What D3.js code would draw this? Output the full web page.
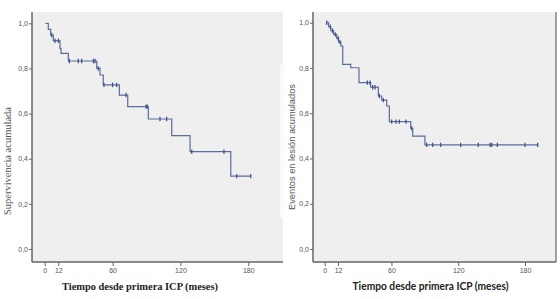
<!DOCTYPE html>
<html><head><meta charset="utf-8">
<script src="https://cdn.jsdelivr.net/npm/d3@7"></script>
<style>html,body{margin:0;padding:0;background:#fff}svg{display:block}</style>
</head><body>
<svg id="c" width="560" height="299"></svg>
<script>
// ---- data ----
const xTicks = [0, 12, 60, 120, 180];
const yTicks = [0, 0.2, 0.4, 0.6, 0.8, 1.0];
const yTickLabels = ["0,0", "0,2", "0,4", "0,6", "0,8", "1,0"];

// Left: Supervivencia acumulada (step times and value after step)
const leftStart = 0.8;
const leftStepTime = [3.2, 5.3, 7.6, 13.5, 14.4, 20.9, 46, 48.9, 51.8, 66, 73.4, 91.6, 112.3, 128.5, 164.5];
const leftStepSurv = [0.973, 0.948, 0.923, 0.889, 0.867, 0.833, 0.80, 0.771, 0.727, 0.682, 0.631, 0.576, 0.502, 0.431, 0.323];
const leftEnd = 182.2;
const leftCensor = [6.2, 9.1, 12.1, 21.8, 29.7, 32.7, 43, 44.5, 47.4, 52.4, 60, 63.6, 71.9, 89.6, 90.7, 101.9, 107.8, 130, 158.5, 169.8, 182.2];

// Right: Eventos en lesión acumulados
const rightStart = 1.8;
const rightStepTime = [3.5, 5.5, 8.0, 10.8, 12.5, 14.5, 16.2, 23.4, 30.8, 41.3, 48.2, 51.2, 55.7, 58.1, 77.3, 79.1, 90.1];
const rightStepSurv = [0.982, 0.965, 0.948, 0.931, 0.914, 0.897, 0.816, 0.801, 0.735, 0.715, 0.676, 0.658, 0.632, 0.563, 0.533, 0.499, 0.46];
const rightEnd = 192;
const rightCensor = [1.8, 5, 7, 9.5, 12, 13.7, 38.3, 40.7, 43.1, 45.2, 49.1, 52.7, 60.2, 64.1, 67.1, 73, 78.2, 91.6, 97, 104.2, 122.2, 138, 148.6, 150.1, 155.1, 180, 191.4];

const svg = d3.select("#c");
const lineColor = "#5b6b9e";
const markColor = "#3d4d85";

function survAt(t, times, surv) {
  let v = 1;
  for (let i = 0; i < times.length; i++) if (times[i] <= t + 1e-9) v = surv[i];
  return v;
}

function panel(o) {
  const x = d3.scaleLinear().domain([0, 180]).range(o.xr);
  const y = d3.scaleLinear().domain([0, 1]).range(o.yr);
  const g = svg.append("g");
  // background
  g.append("rect").attr("x", o.left).attr("y", o.top).attr("width", o.right - o.left)
    .attr("height", o.bottom - o.top).attr("fill", "#efefef");
  if (o.rightBorder) g.append("line").attr("x1", o.right).attr("x2", o.right).attr("y1", o.top).attr("y2", o.bottom)
    .attr("stroke", "#666").attr("stroke-width", 1.2);

  // step path
  const pts = [[o.start, 1]];
  let cur = 1;
  o.times.forEach((t, i) => { pts.push([t, cur]); cur = o.surv[i]; pts.push([t, cur]); });
  pts.push([o.end, cur]);
  g.append("path").attr("d", d3.line().x(d => x(d[0])).y(d => y(d[1]))(pts))
    .attr("fill", "none").attr("stroke", lineColor).attr("stroke-width", 1.2);
  // censor marks
  o.censor.forEach(t => {
    const v = survAt(t, o.times, o.surv);
    g.append("line").attr("x1", x(t)).attr("x2", x(t)).attr("y1", y(v) - 2.2).attr("y2", y(v) + 2.2)
      .attr("stroke", markColor).attr("stroke-width", 1.2);
  });

  // axes
  const yAx = d3.axisLeft(y).tickValues(yTicks).tickSize(3).tickPadding(1)
    .tickFormat((d, i) => yTickLabels[i]);
  const ya = g.append("g").attr("transform", `translate(${o.left},0)`).call(yAx);
  ya.select(".domain").remove();
  g.append("line").attr("x1", o.left).attr("x2", o.left).attr("y1", o.top).attr("y2", o.bottom)
    .attr("stroke", "#666").attr("stroke-width", 1.5);
  const xAx = d3.axisBottom(x).tickValues(xTicks).tickSize(4).tickPadding(2);
  const xa = g.append("g").attr("transform", `translate(0,${o.bottom})`).call(xAx);
  xa.select(".domain").remove();
  g.append("line").attr("x1", o.left).attr("x2", o.right).attr("y1", o.bottom).attr("y2", o.bottom)
    .attr("stroke", "#666").attr("stroke-width", 1.5);
  [ya, xa].forEach(a => {
    a.selectAll("text").attr("font-family", "Liberation Sans, Arial, sans-serif").attr("font-size", 7).attr("fill", "#555");
    a.selectAll(".tick line").attr("stroke", "#666");
  });

  // titles
  g.append("text").attr("x", o.xtX).attr("y", 290).attr("text-anchor", "middle")
    .attr("font-family", o.xtFont).attr("font-weight", "bold").attr("font-size", 11)
    .attr("fill", "#222").attr("textLength", 156).attr("lengthAdjust", "spacingAndGlyphs")
    .text("Tiempo desde primera ICP (meses)");
  g.append("text").attr("transform", `translate(${o.ytX},${o.ytY}) rotate(-90)`).attr("text-anchor", "middle")
    .attr("font-family", o.ytFont).attr("font-size", 9.5).attr("fill", "#555")
    .attr("textLength", o.ytLen).attr("lengthAdjust", "spacingAndGlyphs")
    .text(o.yTitle);
}

panel({ left: 32, right: 283, top: 12, bottom: 262, xr: [44.7, 248.3], yr: [249, 23.3],
  start: leftStart, times: leftStepTime, surv: leftStepSurv, end: leftEnd, censor: leftCensor,
  xtX: 140, xtFont: "Liberation Serif, Times New Roman, serif",
  ytX: 11, ytY: 161, ytLen: 108, ytFont: "Liberation Serif, Times New Roman, serif",
  yTitle: "Supervivencia acumulada" });

// white patch from right chart's image overlapping left panel edge
svg.append("rect").attr("x", 280).attr("y", 65).attr("width", 4).attr("height", 153).attr("fill", "#fafafa");

panel({ left: 313, right: 556, top: 12, bottom: 262, xr: [324.7, 525], yr: [249, 22.7],
  start: rightStart, times: rightStepTime, surv: rightStepSurv, end: rightEnd, censor: rightCensor,
  rightBorder: true,
  xtX: 430.5, xtFont: "Lato, Open Sans, sans-serif",
  ytX: 295, ytY: 147, ytLen: 126, ytFont: "Liberation Sans, Arial, sans-serif",
  yTitle: "Eventos en lesión acumulados" });
</script>
</body></html>
